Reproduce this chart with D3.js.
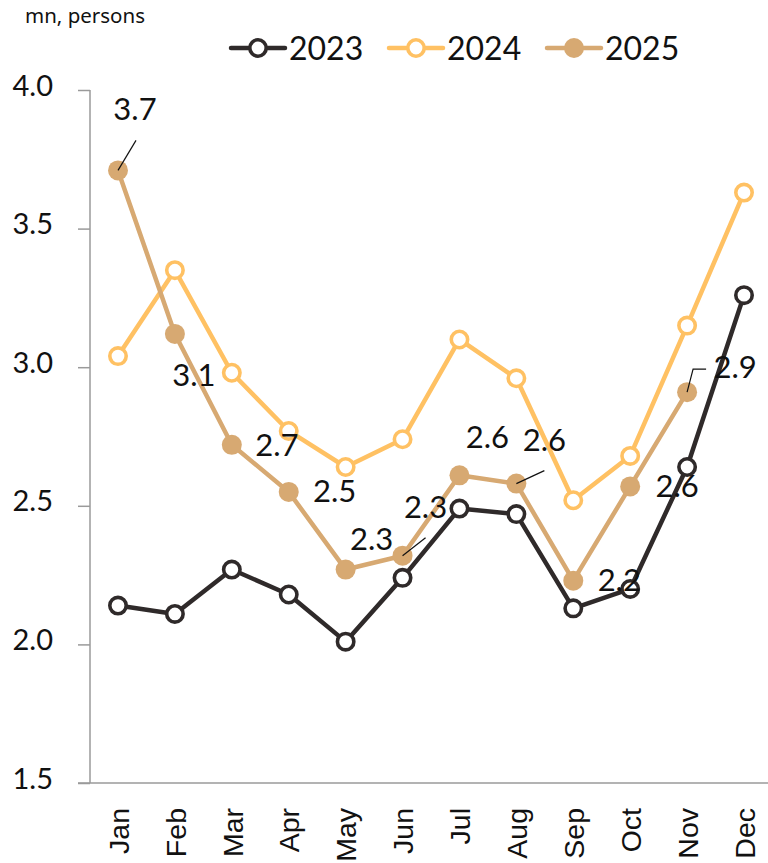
<!DOCTYPE html>
<html>
<head>
<meta charset="utf-8">
<script src="https://cdn.jsdelivr.net/npm/d3@7"></script>
<style>
  html, body { margin: 0; padding: 0; background: #fff; }
  svg { display: block; }
</style>
</head>
<body>
<svg id="chart" width="768" height="863"></svg>
<script>
const months = ["Jan","Feb","Mar","Apr","May","Jun","Jul","Aug","Sep","Oct","Nov","Dec"];
const years = ["2023","2024","2025"];
const values2023 = [2.14, 2.11, 2.27, 2.18, 2.01, 2.24, 2.49, 2.47, 2.13, 2.20, 2.64, 3.26];
const values2024 = [3.04, 3.35, 2.98, 2.77, 2.64, 2.74, 3.10, 2.96, 2.52, 2.68, 3.15, 3.63];
const values2025 = [3.71, 3.12, 2.72, 2.55, 2.27, 2.32, 2.61, 2.58, 2.23, 2.57, 2.91];
const yTicks = [1.5, 2.0, 2.5, 3.0, 3.5, 4.0];
const unitLabel = "mn, persons";
// label placement for 2025 data labels: dx = text centre offset, dy = baseline offset, optional leader
const labelOffsets2025 = [
  {dx: 17, dy: -50, leader: [[0,0],[18,-30]]},
  {dx: 19, dy: 52},
  {dx: 45, dy: 11},
  {dx: 46, dy: 10},
  {dx: 26, dy: -20},
  {dx: 23, dy: -38, leader: [[0,0],[23,-18]]},
  {dx: 28, dy: -27},
  {dx: 28, dy: -33, leader: [[0,0],[28,-13]]},
  {dx: 46, dy: 10},
  {dx: 47, dy: 11},
  {dx: 48, dy: -14, leader: [[0,0],[6,-23],[19,-23]]}
];

const colors = {"2023": "#2f2a2a", "2024": "#ffc163", "2025": "#d7a972"};
const seriesData = {"2023": values2023, "2024": values2024, "2025": values2025};

const svg = d3.select("#chart");
const x = d3.scalePoint().domain(months).range([118, 744]);
const y = d3.scaleLinear().domain([1.5, 4.0]).range([783, 90]);

const numFont = "Lato, 'Noto Sans', sans-serif";

// axes
const axisColor = "#9a9a9a";
svg.append("line").attr("x1", 90).attr("x2", 90).attr("y1", y(4.0)).attr("y2", y(1.5))
  .attr("stroke", axisColor).attr("stroke-width", 1.5);
svg.append("line").attr("x1", 78).attr("x2", 768).attr("y1", y(1.5)).attr("y2", y(1.5))
  .attr("stroke", axisColor).attr("stroke-width", 1.5);

const yAxis = d3.axisLeft(y).tickValues(yTicks).tickSize(12).tickFormat(d3.format(".1f"));
const gy = svg.append("g").attr("transform", "translate(90,0)").call(yAxis);
gy.select(".domain").remove();
gy.selectAll(".tick line").attr("stroke", axisColor).attr("stroke-width", 1.5);
gy.selectAll(".tick text")
  .attr("x", -37).attr("dy", null).attr("y", 5)
  .attr("fill", "#111")
  .style("font-family", numFont).style("font-size", "29px").style("font-weight", 400);

const xAxis = d3.axisBottom(x).tickSize(0);
const gx = svg.append("g").attr("transform", "translate(0,783)").call(xAxis);
gx.select(".domain").remove();
gx.selectAll(".tick text")
  .attr("transform", "rotate(-90)")
  .attr("x", -25).attr("y", 0).attr("dy", "0.36em")
  .attr("text-anchor", "end")
  .attr("fill", "#111")
  .style("font-family", "'Liberation Sans', Arial, sans-serif").style("font-size", "28.5px")
  .style("font-weight", 400);

// lines
const line = d3.line().x((d, i) => x(months[i])).y(d => y(d));
years.forEach(yr => {
  svg.append("path").datum(seriesData[yr])
    .attr("fill", "none").attr("stroke", colors[yr]).attr("stroke-width", 4.5)
    .attr("stroke-linejoin", "round")
    .attr("d", line);
});
years.forEach(yr => {
  const filled = yr === "2025";
  svg.append("g").selectAll("circle").data(seriesData[yr]).join("circle")
    .attr("cx", (d, i) => x(months[i])).attr("cy", d => y(d))
    .attr("r", filled ? 10 : 8.2)
    .attr("fill", filled ? colors[yr] : "#fff")
    .attr("stroke", filled ? "none" : colors[yr])
    .attr("stroke-width", 3.6);
});

// 2025 data labels
values2025.forEach((v, i) => {
  const px = x(months[i]), py = y(v);
  const o = labelOffsets2025[i];
  if (o.leader) {
    svg.append("path")
      .attr("d", d3.line()(o.leader.map(p => [px + p[0], py + p[1]])))
      .attr("fill", "none").attr("stroke", "#111").attr("stroke-width", 1.2);
  }
  svg.append("text")
    .attr("x", px + o.dx).attr("y", py + o.dy)
    .attr("text-anchor", "middle")
    .attr("fill", "#111")
    .style("font-family", numFont).style("font-size", "31px").style("font-weight", 400)
    .text(d3.format(".1f")(v));
});

// unit label
svg.append("text").attr("x", 25).attr("y", 23)
  .attr("fill", "#111")
  .style("font-family", "'Noto Sans', sans-serif").style("font-size", "20.5px")
  .text(unitLabel);

// legend
const legendX = [258, 416, 574];
years.forEach((yr, i) => {
  const g = svg.append("g").attr("transform", `translate(${legendX[i]},48)`);
  g.append("line").attr("x1", -27).attr("x2", 27).attr("y1", 0).attr("y2", 0)
    .attr("stroke", colors[yr]).attr("stroke-width", 4.5).attr("stroke-linecap", "round");
  const filled = yr === "2025";
  g.append("circle").attr("r", filled ? 10 : 8.2)
    .attr("fill", filled ? colors[yr] : "#fff")
    .attr("stroke", filled ? "none" : colors[yr]).attr("stroke-width", 3.6);
  g.append("text").attr("x", 31).attr("y", 12)
    .attr("fill", "#111")
    .style("font-family", numFont).style("font-size", "32px").style("font-weight", 400)
    .text(yr);
});
</script>
</body>
</html>
